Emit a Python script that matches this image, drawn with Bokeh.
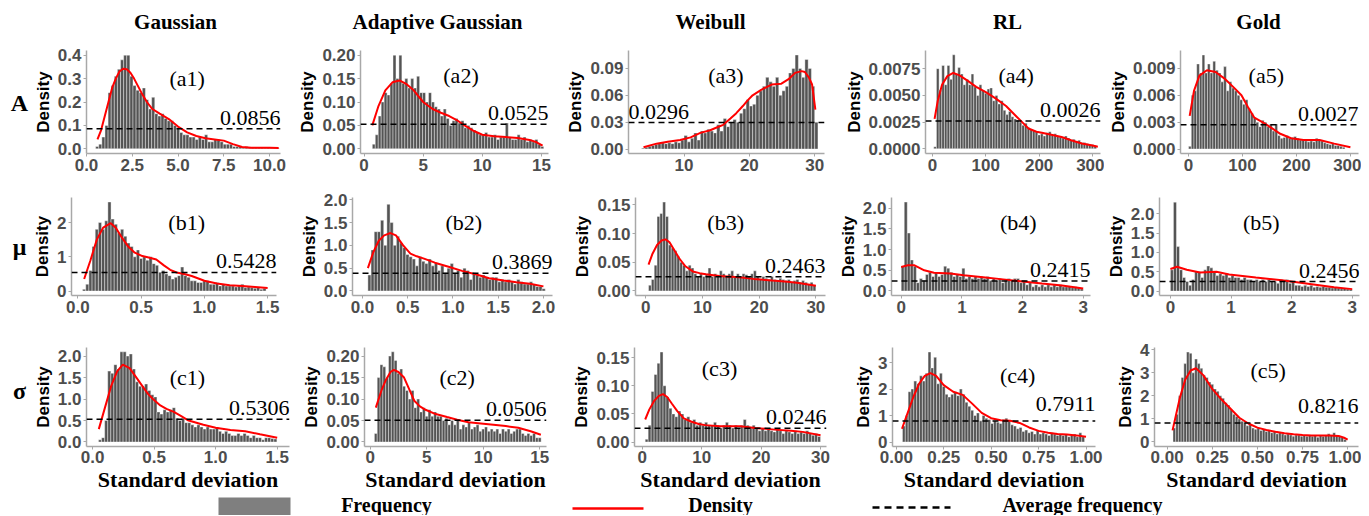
from bokeh.plotting import figure
from bokeh.layouts import column, row
from bokeh.models import Range1d, FixedTicker, PrintfTickFormatter, Span, Label
from bokeh.embed import file_html
from bokeh.resources import INLINE
from bokeh.core.properties import value

# ---------------- data ----------------
COLUMN_TITLES = ["Gaussian", "Adaptive Gaussian", "Weibull", "RL", "Gold"]
ROW_LABELS = ["A", "μ", "σ"]
X_LABEL = "Standard deviation"
Y_LABEL = "Density"
LEGEND_TEXT = ["Frequency", "Density", "Average frequency"]

TAGS = [["(a1)", "(a2)", "(a3)", "(a4)", "(a5)"],
        ["(b1)", "(b2)", "(b3)", "(b4)", "(b5)"],
        ["(c1)", "(c2)", "(c3)", "(c4)", "(c5)"]]
AVG_TEXT = [["0.0856", "0.0525", "0.0296", "0.0026", "0.0027"],
            ["0.5428", "0.3869", "0.2463", "0.2415", "0.2456"],
            ["0.5306", "0.0506", "0.0246", "0.7911", "0.8216"]]
AVG_LINE = [[0.0856, 0.0525, 0.0296, 0.0026, 0.0027],
            [0.5428, 0.3869, 0.02463, 0.2415, 0.2456],
            [0.5306, 0.0506, 0.0246, 0.7911, 0.8216]]

# histogram bins: (first edge, bin width), heights
A1_BIN = (0.5, 0.17)
A1_H = [0.01, 0.02, 0.05, 0.10, 0.24, 0.27, 0.31, 0.34, 0.38, 0.40,
        0.40, 0.31, 0.27, 0.25, 0.24, 0.26, 0.21, 0.17, 0.22, 0.15,
        0.14, 0.15, 0.13, 0.12, 0.12, 0.10, 0.09, 0.07, 0.06, 0.06,
        0.05, 0.05, 0.04, 0.05, 0.04, 0.06, 0.03, 0.03, 0.04, 0.04,
        0.03, 0.02, 0.02, 0.02, 0.01, 0.01, 0.01, 0.005, 0.01, 0.005,
        0.005, 0.005, 0.005, 0.005, 0.003, 0.005, 0.003, 0.003, 0.003]
A1_DX = [0.6, 0.8, 1.0, 1.2, 1.4, 1.6, 1.8, 2.0, 2.2, 2.4, 2.6, 2.8, 3.0, 3.3, 3.6, 4.0, 4.5, 5.0, 5.5,
         6.0, 6.5, 7.0, 7.5, 8.0, 8.5, 9.0, 9.5, 10.0, 10.5]
A1_DY = [0.04, 0.08, 0.14, 0.20, 0.26, 0.30, 0.33, 0.342, 0.34, 0.325, 0.30, 0.27, 0.24, 0.20, 0.17,
         0.15, 0.127, 0.095, 0.07, 0.055, 0.045, 0.04, 0.035, 0.02, 0.008, 0.005, 0.005, 0.005, 0.004]

A2_BIN = (0.7, 0.25)
A2_H = [0.01, 0.03, 0.07, 0.10, 0.12, 0.115, 0.14, 0.20, 0.15, 0.20,
        0.14, 0.15, 0.13, 0.15, 0.13, 0.155, 0.12, 0.12, 0.10, 0.12,
        0.10, 0.09, 0.085, 0.07, 0.085, 0.065, 0.05, 0.06, 0.065, 0.055,
        0.06, 0.045, 0.05, 0.045, 0.04, 0.035, 0.03, 0.03, 0.035, 0.025,
        0.025, 0.03, 0.02, 0.025, 0.025, 0.055, 0.025, 0.02, 0.02, 0.03,
        0.02, 0.025, 0.015, 0.02, 0.015, 0.02, 0.01, 0.005]
A2_DX = [0.7, 1.2, 1.8, 2.4, 3.0, 3.6, 4.2, 5.0, 5.8, 6.5, 7.2, 7.8, 8.5, 9.3, 10.0, 11.0, 12.0, 13.0,
         14.0, 14.6, 15.1]
A2_DY = [0.05, 0.09, 0.125, 0.142, 0.146, 0.138, 0.125, 0.10, 0.085, 0.077, 0.07, 0.062, 0.05, 0.038,
         0.03, 0.027, 0.025, 0.023, 0.019, 0.014, 0.007]

A3_BIN = (3.5, 0.5)
A3_H = [0.001, 0.002, 0.003, 0.004, 0.005, 0.006, 0.007, 0.006, 0.007, 0.006,
        0.008, 0.007, 0.010, 0.015, 0.008, 0.012, 0.018, 0.010, 0.020, 0.018,
        0.022, 0.020, 0.018, 0.027, 0.020, 0.034, 0.025, 0.030, 0.033, 0.030,
        0.040, 0.045, 0.055, 0.048, 0.050, 0.060, 0.065, 0.070, 0.080, 0.075,
        0.070, 0.080, 0.060, 0.065, 0.070, 0.085, 0.090, 0.105, 0.090, 0.080,
        0.100, 0.090, 0.070, 0.030]
A3_DX = [3.8, 5.8, 7.5, 9.4, 11, 12.5, 14, 15, 16, 17.1, 18, 19, 19.7, 20.5, 21.8, 23.4, 24.9, 26, 27,
         28, 28.5, 29.1, 29.6, 30.1]
A3_DY = [0.002, 0.006, 0.008, 0.01, 0.013, 0.018, 0.021, 0.024, 0.027, 0.034, 0.04, 0.048, 0.054, 0.06,
         0.066, 0.072, 0.073, 0.078, 0.085, 0.087, 0.086, 0.08, 0.072, 0.044]

A4_BIN = (2.5, 5.0)
A4_H = [0.0002, 0.0075, 0.0055, 0.0078, 0.006, 0.0078, 0.0065, 0.0088, 0.007, 0.0076,
        0.007, 0.006, 0.0065, 0.006, 0.007, 0.0058, 0.005, 0.006, 0.0055, 0.0052,
        0.0056, 0.0057, 0.0045, 0.005, 0.0042, 0.0045, 0.0036, 0.0032, 0.0035, 0.003,
        0.0028, 0.0027, 0.0025, 0.0022, 0.0024, 0.002, 0.0018, 0.0017, 0.0016, 0.0013,
        0.0014, 0.0012, 0.0015, 0.0016, 0.0013, 0.0014, 0.0012, 0.0011, 0.001, 0.0012,
        0.001, 0.0008, 0.0009, 0.0007, 0.0008, 0.0006, 0.0006, 0.0005, 0.0004, 0.0004,
        0.0003]
A4_DX = [4, 10, 18, 28, 39, 50, 65, 82, 100, 119, 138, 156, 170, 180, 195, 205, 225, 242, 260, 280, 300, 310]
A4_DY = [0.0028, 0.0045, 0.006, 0.0068, 0.0071, 0.0069, 0.0064, 0.0058, 0.0053, 0.0047, 0.004, 0.0031,
         0.0024, 0.0019, 0.0016, 0.0015, 0.0013, 0.0011, 0.0008, 0.0005, 0.0003, 0.0002]

A5_BIN = (0.0, 5.0)
A5_H = [0.0003, 0.006, 0.0065, 0.0095, 0.0085, 0.0105, 0.0085, 0.0095, 0.0085, 0.0098,
        0.0088, 0.0085, 0.0075, 0.0092, 0.0065, 0.0075, 0.0068, 0.0065, 0.006, 0.0055,
        0.005, 0.0055, 0.0045, 0.004, 0.0035, 0.003, 0.0025, 0.0032, 0.003, 0.0025,
        0.0028, 0.002, 0.0028, 0.0015, 0.0012, 0.0013, 0.0015, 0.0012, 0.0013, 0.0014,
        0.0012, 0.001, 0.0011, 0.0009, 0.0008, 0.0009, 0.0008, 0.0012, 0.001, 0.0009,
        0.0007, 0.0006, 0.0005, 0.0006, 0.0004, 0.0004, 0.0003, 0.0002]
A5_DX = [2, 10, 20, 34, 50, 68, 85, 98, 110, 122, 140, 155, 170, 190, 213, 243, 270, 300]
A5_DY = [0.0037, 0.0065, 0.0082, 0.0088, 0.0086, 0.0078, 0.0068, 0.006, 0.0047, 0.0035, 0.0029,
         0.0023, 0.0017, 0.0012, 0.001, 0.001, 0.0006, 0.0002]

B1_BIN = (0.0375, 0.025)
B1_H = [0.05, 0.2, 0.6, 1.3, 1.8, 2.0, 1.8, 2.05, 2.6, 2.1,
        1.95, 1.7, 1.8, 1.6, 1.4, 1.3, 1.0, 1.2, 0.95, 1.0,
        0.9, 1.0, 0.8, 0.75, 0.55, 0.6, 0.5, 0.45, 0.35, 0.4,
        0.45, 0.7, 0.45, 0.4, 0.3, 0.3, 0.25, 0.25, 0.3, 0.3,
        0.2, 0.2, 0.25, 0.15, 0.2, 0.15, 0.15, 0.15, 0.12, 0.15,
        0.2, 0.1, 0.12, 0.1, 0.08, 0.1, 0.05, 0.08]
B1_DX = [0.05, 0.1, 0.15, 0.2, 0.26, 0.3, 0.35, 0.4, 0.45, 0.51, 0.56, 0.62, 0.68, 0.73, 0.78, 0.84,
         0.9, 1.0, 1.1, 1.2, 1.3, 1.4, 1.5]
B1_DY = [0.35, 0.9, 1.5, 1.85, 1.98, 1.85, 1.55, 1.29, 1.12, 1.02, 0.98, 0.92, 0.75, 0.62, 0.54, 0.5,
         0.44, 0.3, 0.22, 0.17, 0.15, 0.12, 0.09]

B2_BIN = (0.06, 0.035)
B2_H = [0.35, 0.9, 1.3, 1.3, 1.55, 1.0, 1.9, 1.5, 1.0, 1.2,
        1.05, 0.95, 0.8, 0.75, 0.7, 0.55, 0.75, 0.65, 0.6, 0.7,
        0.55, 0.6, 0.45, 0.55, 0.4, 0.5, 0.6, 0.4, 0.45, 0.3,
        0.5, 0.45, 0.25, 0.4, 0.35, 0.3, 0.35, 0.3, 0.25, 0.3,
        0.3, 0.2, 0.25, 0.2, 0.25, 0.2, 0.15, 0.25, 0.2, 0.15,
        0.15, 0.2, 0.15, 0.1, 0.1, 0.05]
B2_DX = [0.06, 0.12, 0.18, 0.24, 0.31, 0.37, 0.45, 0.53, 0.6, 0.68, 0.8, 0.97, 1.1, 1.26, 1.4, 1.56,
         1.7, 1.85, 2.0]
B2_DY = [0.5, 0.85, 1.1, 1.22, 1.27, 1.22, 1.0, 0.82, 0.76, 0.71, 0.62, 0.52, 0.44, 0.36, 0.28, 0.23,
         0.19, 0.16, 0.1]

B3_BIN = (0.5, 0.5)
B3_H = [0.01, 0.02, 0.045, 0.13, 0.135, 0.155, 0.13, 0.08, 0.075, 0.07,
        0.06, 0.05, 0.045, 0.035, 0.045, 0.04, 0.03, 0.025, 0.03, 0.025,
        0.03, 0.04, 0.025, 0.03, 0.025, 0.035, 0.03, 0.025, 0.03, 0.035,
        0.025, 0.03, 0.025, 0.03, 0.028, 0.025, 0.03, 0.035, 0.025, 0.02,
        0.025, 0.022, 0.02, 0.025, 0.02, 0.018, 0.022, 0.02, 0.018, 0.02,
        0.015, 0.018, 0.02, 0.015, 0.018, 0.015, 0.012, 0.015, 0.01]
B3_DX = [0.5, 1.2, 2.0, 2.8, 3.5, 4.2, 5.0, 5.9, 7, 8.3, 9.5, 10.6, 13, 16.5, 19, 22.3, 25, 27, 30]
B3_DY = [0.046, 0.065, 0.08, 0.088, 0.09, 0.085, 0.072, 0.057, 0.043, 0.034, 0.031, 0.029, 0.026,
         0.024, 0.021, 0.018, 0.016, 0.014, 0.009]

B4_BIN = (0.0, 0.05)
B4_H = [0.6, 2.15, 1.4, 0.75, 0.6, 0.2, 0.3, 0.25, 0.4, 0.45,
        0.35, 0.45, 0.35, 0.4, 0.6, 0.55, 0.45, 0.35, 0.4, 0.35,
        0.55, 0.3, 0.35, 0.3, 0.35, 0.3, 0.35, 0.3, 0.35, 0.25,
        0.3, 0.25, 0.3, 0.2, 0.25, 0.3, 0.25, 0.3, 0.3, 0.2,
        0.25, 0.15, 0.2, 0.1, 0.15, 0.1, 0.15, 0.1, 0.15, 0.1,
        0.15, 0.1, 0.15, 0.1, 0.1, 0.12, 0.08, 0.1, 0.08, 0.05]
B4_DX = [0.0, 0.11, 0.22, 0.38, 0.54, 0.81, 1.03, 1.35, 1.68, 2.0, 2.32, 2.65, 3.0]
B4_DY = [0.58, 0.62, 0.62, 0.5, 0.44, 0.42, 0.38, 0.33, 0.28, 0.23, 0.18, 0.13, 0.06]

B5_BIN = (0.0, 0.05)
B5_H = [0.55, 2.3, 1.15, 0.55, 0.35, 0.25, 0.15, 0.3, 0.5, 0.5,
        0.35, 0.55, 0.65, 0.6, 0.5, 0.4, 0.45, 0.4, 0.45, 0.35,
        0.4, 0.35, 0.35, 0.3, 0.35, 0.3, 0.3, 0.25, 0.3, 0.25,
        0.3, 0.25, 0.3, 0.25, 0.25, 0.2, 0.3, 0.25, 0.3, 0.2,
        0.25, 0.15, 0.15, 0.12, 0.15, 0.12, 0.15, 0.1, 0.12, 0.1,
        0.12, 0.1, 0.1, 0.08, 0.1, 0.08, 0.06, 0.08, 0.05, 0.04]
B5_DX = [0.0, 0.11, 0.27, 0.49, 0.76, 0.97, 1.41, 1.84, 2.27, 2.7, 3.0]
B5_DY = [0.57, 0.63, 0.55, 0.48, 0.5, 0.43, 0.35, 0.28, 0.19, 0.1, 0.05]

C1_BIN = (0.0475, 0.025)
C1_H = [0.05, 0.1, 0.5, 1.65, 1.6, 1.8, 1.7, 2.1, 2.1, 2.0,
        2.05, 1.7, 1.4, 1.3, 1.3, 1.35, 1.2, 1.1, 1.05, 0.7,
        0.65, 0.75, 0.7, 0.75, 0.8, 0.55, 0.5, 0.55, 0.45, 0.45,
        0.4, 0.35, 0.4, 0.35, 0.3, 0.35, 0.3, 0.3, 0.35, 0.25,
        0.2, 0.25, 0.2, 0.15, 0.15, 0.2, 0.15, 0.2, 0.15, 0.1,
        0.15, 0.1, 0.1, 0.05, 0.1, 0.1, 0.08, 0.07]
C1_DX = [0.05, 0.1, 0.15, 0.2, 0.245, 0.3, 0.35, 0.4, 0.45, 0.49, 0.55, 0.6, 0.66, 0.72, 0.78, 0.9,
         1.0, 1.12, 1.24, 1.36, 1.5]
C1_DY = [0.3, 0.8, 1.3, 1.65, 1.8, 1.72, 1.52, 1.32, 1.12, 1.0, 0.85, 0.77, 0.7, 0.6, 0.5, 0.4, 0.33,
         0.28, 0.25, 0.18, 0.1]

C2_BIN = (0.375, 0.25)
C2_H = [0.02, 0.15, 0.18, 0.175, 0.15, 0.2, 0.21, 0.19, 0.16, 0.17,
        0.13, 0.12, 0.1, 0.12, 0.08, 0.1, 0.07, 0.08, 0.06, 0.075,
        0.06, 0.07, 0.06, 0.06, 0.05, 0.055, 0.04, 0.05, 0.04, 0.05,
        0.03, 0.04, 0.035, 0.045, 0.03, 0.035, 0.04, 0.025, 0.03, 0.035,
        0.025, 0.03, 0.025, 0.03, 0.02, 0.03, 0.025, 0.03, 0.02, 0.025,
        0.03, 0.03, 0.02, 0.015, 0.02, 0.015, 0.02, 0.01, 0.01]
C2_DX = [0.5, 1.0, 1.4, 1.8, 2.1, 2.5, 3.0, 3.5, 3.9, 4.4, 4.9, 5.8, 6.8, 7.7, 8.7, 9.8, 10.9, 12.0,
         13.1, 14.2, 15.1]
C2_DY = [0.08, 0.12, 0.145, 0.163, 0.168, 0.163, 0.15, 0.12, 0.096, 0.083, 0.075, 0.065, 0.058,
         0.052, 0.046, 0.043, 0.04, 0.037, 0.033, 0.025, 0.017]

C3_BIN = (0.5, 0.5)
C3_H = [0.005, 0.03, 0.09, 0.12, 0.14, 0.16, 0.1, 0.08, 0.06, 0.05,
        0.045, 0.055, 0.05, 0.04, 0.045, 0.035, 0.04, 0.03, 0.035, 0.03,
        0.035, 0.03, 0.03, 0.035, 0.03, 0.025, 0.03, 0.035, 0.03, 0.025,
        0.03, 0.025, 0.03, 0.04, 0.03, 0.025, 0.03, 0.025, 0.02, 0.025,
        0.02, 0.025, 0.02, 0.018, 0.022, 0.02, 0.015, 0.02, 0.018, 0.015,
        0.02, 0.015, 0.018, 0.015, 0.02, 0.015, 0.012, 0.015, 0.01]
C3_DX = [0.5, 1.2, 2.0, 2.8, 3.5, 4.2, 5.0, 5.9, 7, 8.3, 9.5, 10.6, 13, 16.5, 19, 22.3, 25, 27, 30]
C3_DY = [0.04, 0.058, 0.073, 0.082, 0.085, 0.08, 0.068, 0.055, 0.042, 0.036, 0.032, 0.03, 0.028,
         0.028, 0.025, 0.022, 0.02, 0.018, 0.012]

C4_BIN = (0.0325, 0.015)
C4_H = [0.6, 1.0, 1.9, 2.0, 2.3, 2.2, 2.5, 2.3, 2.6, 3.4,
        2.8, 3.2, 2.2, 2.6, 2.1, 1.8, 1.7, 1.8, 1.9, 1.75,
        2.0, 1.8, 1.5, 1.35, 1.2, 1.0, 1.1, 0.8, 1.0, 0.9,
        0.85, 0.7, 0.8, 0.75, 0.7, 0.85, 0.9, 0.8, 0.65, 0.6,
        0.5, 0.55, 0.4, 0.45, 0.35, 0.4, 0.3, 0.45, 0.3, 0.35,
        0.3, 0.25, 0.35, 0.3, 0.25, 0.3, 0.25, 0.3, 0.2, 0.25,
        0.3, 0.2, 0.35, 0.2]
C4_DX = [0.03, 0.06, 0.09, 0.12, 0.15, 0.18, 0.21, 0.25, 0.3, 0.35, 0.4, 0.45, 0.5, 0.55, 0.6, 0.65,
         0.7, 0.75, 0.8, 0.85, 0.9, 0.95, 1.0]
C4_DY = [0.5, 1.1, 1.7, 2.2, 2.5, 2.6, 2.5, 2.15, 1.9, 1.78, 1.45, 1.1, 0.9, 0.82, 0.8, 0.72, 0.55,
         0.42, 0.35, 0.3, 0.28, 0.25, 0.2]

C5_BIN = (0.0325, 0.015)
C5_H = [0.6, 1.2, 2.0, 2.8, 3.4, 3.9, 3.85, 3.0, 3.6, 3.4,
        3.2, 2.9, 2.8, 2.6, 2.5, 2.3, 2.2, 2.0, 1.9, 1.7,
        1.6, 1.4, 1.2, 1.1, 1.0, 0.9, 0.85, 0.7, 0.75, 0.6,
        0.55, 0.6, 0.5, 0.55, 0.45, 0.5, 0.4, 0.45, 0.35, 0.4,
        0.35, 0.3, 0.35, 0.3, 0.25, 0.3, 0.3, 0.25, 0.3, 0.25,
        0.3, 0.25, 0.3, 0.2, 0.3, 0.25, 0.3, 0.35, 0.3, 0.4,
        0.3, 0.25, 0.2, 0.1]
C5_DX = [0.03, 0.05, 0.07, 0.1, 0.13, 0.16, 0.2, 0.25, 0.3, 0.35, 0.4, 0.45, 0.5, 0.55, 0.6, 0.65,
         0.7, 0.75, 0.8, 0.85, 0.9, 0.95, 0.98, 1.0]
C5_DY = [0.5, 1.2, 1.9, 2.7, 3.1, 3.2, 2.9, 2.3, 1.85, 1.45, 1.05, 0.8, 0.62, 0.52, 0.44, 0.38, 0.33,
         0.3, 0.28, 0.28, 0.28, 0.26, 0.18, 0.1]

# axis ticks
X_TICKS = [[[0, 2.5, 5, 7.5, 10], [0, 5, 10, 15], [10, 20, 30], [0, 100, 200, 300], [0, 100, 200, 300]],
           [[0, 0.5, 1, 1.5], [0, 0.5, 1, 1.5, 2], [0, 10, 20, 30], [0, 1, 2, 3], [0, 1, 2, 3]],
           [[0, 0.5, 1, 1.5], [0, 5, 10, 15], [0, 10, 20, 30], [0, 0.25, 0.5, 0.75, 1], [0, 0.25, 0.5, 0.75, 1]]]
X_FMT = [["%.1f", "%d", "%d", "%d", "%d"],
         ["%.1f", "%.1f", "%d", "%d", "%d"],
         ["%.1f", "%d", "%d", "%.2f", "%.2f"]]
Y_TICKS = [[[0, 0.1, 0.2, 0.3, 0.4], [0, 0.05, 0.1, 0.15, 0.2], [0, 0.03, 0.06, 0.09],
            [0, 0.0025, 0.005, 0.0075], [0, 0.003, 0.006, 0.009]],
           [[0, 1, 2], [0, 0.5, 1, 1.5, 2], [0, 0.05, 0.1, 0.15], [0, 0.5, 1, 1.5, 2], [0, 0.5, 1, 1.5, 2]],
           [[0, 0.5, 1, 1.5, 2], [0, 0.05, 0.1, 0.15, 0.2], [0, 0.05, 0.1, 0.15], [0, 1, 2, 3], [0, 1, 2, 3, 4]]]
Y_FMT = [["%.1f", "%.2f", "%.2f", "%.4f", "%.3f"],
         ["%d", "%.1f", "%.2f", "%.1f", "%.1f"],
         ["%.1f", "%.2f", "%.2f", "%d", "%d"]]
X_RANGE = [[(0.0, 10.6), (-0.3, 15.6), (1.5, 31.5), (-13, 315), (-15, 315)],
           [(-0.05, 1.57), (-0.11, 2.1), (-1.8, 31.7), (-0.16, 3.12), (-0.18, 3.12)],
           [(-0.05, 1.6), (-0.5, 15.6), (-1.3, 31.0), (-0.02, 1.05), (-0.07, 1.06)]]
Y_RANGE = [[(-0.02, 0.42), (-0.01, 0.21), (-0.005, 0.11), (-0.00044, 0.0092), (-0.0005, 0.011)],
           [(-0.13, 2.73), (-0.1, 2.05), (-0.008, 0.163), (-0.11, 2.26), (-0.115, 2.42)],
           [(-0.105, 2.2), (-0.0105, 0.22), (-0.008, 0.168), (-0.17, 3.57), (-0.2, 4.1)]]
TAG_POS = [[(5.5, 0.30), (8.2, 0.157), (16.4, 0.082), (157, 0.0069), (144, 0.0082)],
           [(0.86, 2.0), (1.12, 1.5), (14.1, 0.119), (1.93, 1.66), (1.5, 1.77)],
           [(0.77, 1.5), (7.7, 0.15), (13, 0.13), (0.64, 2.5), (0.56, 3.1)]]

BINS = [[A1_BIN, A2_BIN, A3_BIN, A4_BIN, A5_BIN], [B1_BIN, B2_BIN, B3_BIN, B4_BIN, B5_BIN],
        [C1_BIN, C2_BIN, C3_BIN, C4_BIN, C5_BIN]]
HEIGHTS = [[A1_H, A2_H, A3_H, A4_H, A5_H], [B1_H, B2_H, B3_H, B4_H, B5_H], [C1_H, C2_H, C3_H, C4_H, C5_H]]
DENS_X = [[A1_DX, A2_DX, A3_DX, A4_DX, A5_DX], [B1_DX, B2_DX, B3_DX, B4_DX, B5_DX],
          [C1_DX, C2_DX, C3_DX, C4_DX, C5_DX]]
DENS_Y = [[A1_DY, A2_DY, A3_DY, A4_DY, A5_DY], [B1_DY, B2_DY, B3_DY, B4_DY, B5_DY],
          [C1_DY, C2_DY, C3_DY, C4_DY, C5_DY]]

# ---------------- layout (pixels) ----------------
LABEL_W = 30
ROW_H = [140, 144, 172]
BORDER_TB = [(12, 25), (19, 27), (25, 47)]
# per panel: (figure width, left border, right border)
COL_GEOM = [[(260, 53, 10), (266, 70, 8), (279, 72, 11), (269, 90, 4), (257, 76, 3)],
            [(260, 40, 14), (275, 62, 13), (270, 70, 10), (265, 53, 10), (261, 59, 2)],
            [(268, 52, 9), (260, 66, 12), (280, 76, 12), (274, 54, 17), (249, 42, 3)]]
# extra vertical offset (px) of the average-value text above its dashed line
AVG_TEXT_OFFSET = [[4, 4, 4, 4, 4], [4, 4, 4, 4, 4], [4, 4, 4, 10, 10]]
ROW_LABEL_Y = [72, 72, 76]
HEADER_H = 38
HEADER_X = [175, 437, 710, 1007, 1258]
HEADER_Y = 21
TOTAL_W = 1361
LEG_H = 21

SANS = "Liberation Sans"
SERIF = "Liberation Serif"
BAR_COLOR = "#545454"
AXIS_COLOR = "#a8a8a8"
TICK_TEXT = "#4d4d4d"


def blank(w, h, xr, yr):
    p = figure(width=w, height=h, x_range=Range1d(*xr), y_range=Range1d(*yr),
               min_border=0, toolbar_location=None, output_backend="svg")
    p.axis.visible = False
    p.grid.visible = False
    p.outline_line_color = None
    return p


def panel(r, c):
    w, bl, br = COL_GEOM[r][c]
    bt, bb = BORDER_TB[r]
    p = figure(width=w, height=ROW_H[r], x_range=Range1d(*X_RANGE[r][c]), y_range=Range1d(*Y_RANGE[r][c]),
               min_border_left=bl, min_border_right=br, min_border_top=bt, min_border_bottom=bb,
               toolbar_location=None, output_backend="svg")
    p.grid.visible = False
    p.outline_line_color = None
    start, bw = BINS[r][c]
    h = HEIGHTS[r][c]
    centers = [start + bw * (i + 0.5) for i in range(len(h))]
    p.vbar(x=centers, width=bw, top=h, bottom=0, fill_color=BAR_COLOR, line_color="white", line_width=0.4)
    p.add_layout(Span(location=AVG_LINE[r][c], dimension="width", line_color="black",
                      line_dash="6 4", line_width=1.5))
    p.line(DENS_X[r][c], DENS_Y[r][c], line_color="red", line_width=2)
    tx, ty = TAG_POS[r][c]
    p.add_layout(Label(x=tx, y=ty, text=TAGS[r][c], text_align="center", text_baseline="middle",
                       text_font=SERIF, text_font_size="22px", text_color="black"))
    left_side = (r == 0 and c == 2)
    xr = X_RANGE[r][c]
    p.add_layout(Label(x=xr[0] if left_side else xr[1], y=AVG_LINE[r][c], y_offset=AVG_TEXT_OFFSET[r][c],
                       text=AVG_TEXT[r][c], text_align="left" if left_side else "right",
                       text_baseline="bottom", text_font=SERIF, text_font_size="22px", text_color="black"))
    p.xaxis.ticker = FixedTicker(ticks=X_TICKS[r][c])
    p.xaxis.formatter = PrintfTickFormatter(format=X_FMT[r][c])
    p.yaxis.ticker = FixedTicker(ticks=Y_TICKS[r][c])
    p.yaxis.formatter = PrintfTickFormatter(format=Y_FMT[r][c])
    for ax in (p.xaxis[0], p.yaxis[0]):
        ax.axis_line_color = AXIS_COLOR
        ax.axis_line_width = 1.5
        ax.major_tick_line_color = AXIS_COLOR
        ax.major_tick_out = 3
        ax.major_tick_in = 0
        ax.minor_tick_line_color = None
        ax.major_label_standoff = 2
        ax.major_label_text_font = SANS
        ax.major_label_text_font_style = "bold"
        ax.major_label_text_font_size = "17px"
        ax.major_label_text_color = TICK_TEXT
    p.yaxis.axis_label = Y_LABEL
    p.yaxis.axis_label_standoff = 2
    p.yaxis.axis_label_text_font = SANS
    p.yaxis.axis_label_text_font_style = "bold"
    p.yaxis.axis_label_text_font_size = "17px"
    p.yaxis.axis_label_text_color = "black"
    if r == 2:
        p.xaxis.major_label_standoff = 1
        p.xaxis.axis_label = X_LABEL
        p.xaxis.axis_label_standoff = 1
        p.xaxis.axis_label_text_font = SERIF
        p.xaxis.axis_label_text_font_style = "bold"
        p.xaxis.axis_label_text_font_size = "22px"
        p.xaxis.axis_label_text_color = "black"
    return p


# header
header = blank(TOTAL_W, HEADER_H, (0, TOTAL_W), (HEADER_H, 0))
header.text(x=HEADER_X, y=[HEADER_Y] * 5, text=COLUMN_TITLES, text_align="center", text_baseline="middle",
            text_font=value(SERIF), text_font_style="bold", text_font_size="21px", text_color="black")

rows = [header]
for r in range(3):
    lab = blank(LABEL_W, ROW_H[r], (0, LABEL_W), (ROW_H[r], 0))
    lab.text(x=[19], y=[ROW_LABEL_Y[r]], text=[ROW_LABELS[r]], text_align="center", text_baseline="middle",
             text_font=value(SERIF), text_font_style="bold", text_font_size="24px", text_color="black")
    rows.append(row([lab] + [panel(r, c) for c in range(5)]))

# legend strip
leg = blank(TOTAL_W, LEG_H, (0, TOTAL_W), (LEG_H, 0))
leg.quad(left=[218], right=[290], top=[3], bottom=[LEG_H], fill_color="#7f7f7f", line_color=None)
leg.line(x=[572, 643], y=[14, 14], line_color="red", line_width=2.5)
leg.line(x=[872, 950], y=[13, 13], line_color="black", line_width=2.5, line_dash="7 5")
leg.text(x=[386, 720, 1082], y=[10, 10, 10], text=LEGEND_TEXT, text_align="center",
         text_baseline="middle", text_font=value(SERIF), text_font_style="bold",
         text_font_size="20px", text_color="black")
rows.append(leg)

layout = column(rows)
open("out.html", "w").write(file_html(layout, INLINE))
